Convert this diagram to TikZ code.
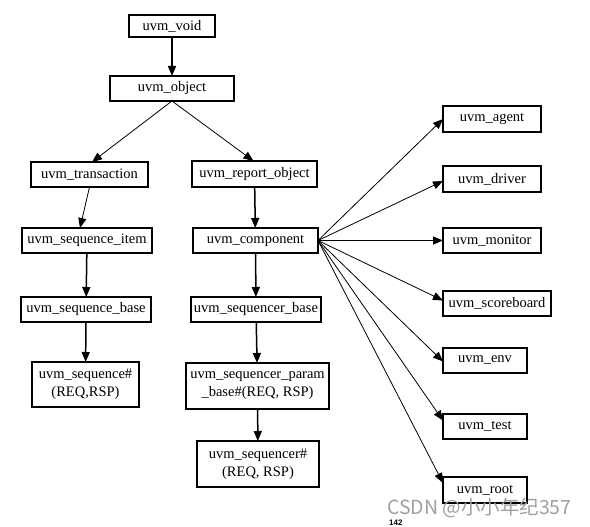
\documentclass[tikz,border=0pt]{standalone}
\usepackage{fontspec}
\setmainfont{Liberation Serif}
\newfontfamily\cjkfont{Noto Sans CJK SC}
\newfontfamily\sansfont{Liberation Sans}
\usetikzlibrary{arrows.meta,positioning}
\definecolor{wmgray}{RGB}{160,160,160}
\tikzset{
  cls/.style={draw=black, line width=1.4pt, inner sep=0pt, outer sep=0pt,
    font=\fontsize{14.5}{18}\selectfont, align=center},
  vline/.style={line width=1.5pt, -{Triangle[length=10pt,width=8pt]}},
  dline/.style={line width=0.8pt, -{Triangle[length=10pt,width=8pt]}},
}
\begin{document}
\begin{tikzpicture}[x=1pt,y=-1pt]
\useasboundingbox[fill=white] (0,0) rectangle (590,527);
% left / middle column
\node[cls, minimum width=86pt, minimum height=22pt] (void) at (172,26) {uvm\_void};
\node[cls, minimum width=124pt, minimum height=25pt] (object) at (172,88.5) {uvm\_object};
\node[cls, minimum width=117pt, minimum height=25pt] (trans) at (89.5,174.5) {uvm\_transaction};
\node[cls, minimum width=125pt, minimum height=26pt] (report) at (254.5,174) {uvm\_report\_object};
\node[cls, minimum width=130pt, minimum height=25pt] (item) at (87,240.5) {uvm\_sequence\_item};
\node[cls, minimum width=125pt, minimum height=25pt] (comp) at (255.5,240.5) {uvm\_component};
\node[cls, minimum width=130pt, minimum height=25pt] (seqbase) at (86,309.5) {uvm\_sequence\_base};
\node[cls, minimum width=130pt, minimum height=25pt] (sqrbase) at (256,309.5) {uvm\_sequencer\_base};
\node[cls, minimum width=107pt, minimum height=45pt] (seq) at (85.5,384.5) {uvm\_sequence\#\\(REQ,RSP)};
\node[cls, minimum width=143pt, minimum height=46pt] (param) at (257.5,386) {uvm\_sequencer\_param\\\_base\#(REQ, RSP)};
\node[cls, minimum width=122pt, minimum height=46pt] (sqr) at (258,464) {uvm\_sequencer\#\\(REQ, RSP)};
% right column
\node[cls, minimum width=98pt, minimum height=26pt] (agent) at (492,119) {uvm\_agent};
\node[cls, minimum width=98pt, minimum height=26pt] (driver) at (492,179) {uvm\_driver};
\node[cls, minimum width=98pt, minimum height=25pt] (monitor) at (492,240.5) {uvm\_monitor};
\node[cls, minimum width=108pt, minimum height=25pt] (score) at (497,303.5) {uvm\_scoreboard};
\node[cls, minimum width=84pt, minimum height=25pt] (env) at (485,360.5) {uvm\_env};
\node[cls, minimum width=84pt, minimum height=25pt] (test) at (485,426.5) {uvm\_test};
\node[cls, minimum width=84pt, minimum height=26pt] (root) at (485,490) {uvm\_root};
% connectors
\draw[vline] (void) -- (object);
\draw[dline] (object.south) -- ([xshift=-80pt]object.south |- trans.north);
\draw[dline] (object.south) -- ([xshift=-1pt]report.north);
\draw[dline] (trans.south) -- ([xshift=-7pt]item.north);
\draw[vline] (report) -- (comp);
\draw[vline] (item) -- (seqbase);
\draw[vline] (seqbase) -- (seq);
\draw[vline] (comp) -- (sqrbase);
\draw[vline] (sqrbase) -- (param);
\draw[vline] (param) -- (sqr);
\draw[dline] (comp.east) -- (agent.west);
\draw[dline] (comp.east) -- ([yshift=-2pt]driver.west);
\draw[dline] (comp.east) -- (monitor.west);
\draw[dline] (comp.east) -- ([yshift=3pt]score.west);
\draw[dline] (comp.east) -- ([yshift=-1pt]env.west);
\draw[dline] (comp.east) -- ([yshift=6pt]test.west);
\draw[dline] (comp.east) -- ([yshift=7pt]root.west);
% watermark and page number
\node[anchor=west, text=wmgray, font=\cjkfont\fontsize{19.5}{22}\selectfont, inner sep=0pt] (wm) at (387,508) {CSDN @小小年纪357};
\node[anchor=south west, font=\sansfont\bfseries\fontsize{8}{9}\selectfont, inner sep=0pt] (page) at (389,525.5) {142};
\end{tikzpicture}
\end{document}
